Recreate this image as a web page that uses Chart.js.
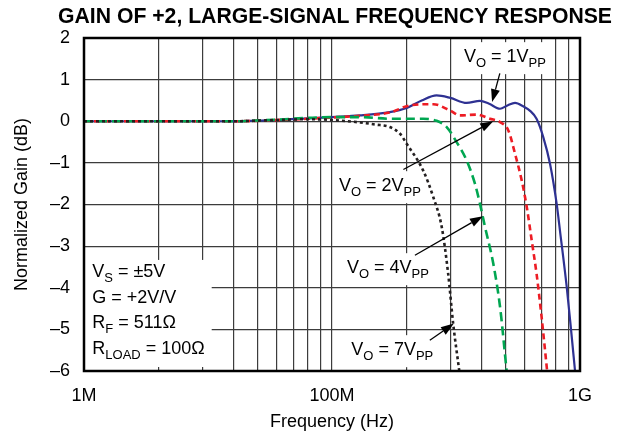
<!DOCTYPE html>
<html>
<head>
<meta charset="utf-8">
<script src="https://cdn.jsdelivr.net/npm/chart.js@4.4.1/dist/chart.umd.min.js"></script>
<style>
  html, body { margin: 0; padding: 0; background: #fff; }
  #wrap { width: 624px; height: 439px; }
</style>
</head>
<body>
<div id="wrap"><canvas id="chart"></canvas></div>
<script>
// ------------------------------------------------------------
// Data (frequency in MHz, gain in dB)
// ------------------------------------------------------------
const freq1V = [10, 40, 60, 80, 100, 130, 171, 200, 230, 264, 300, 349, 395, 430, 476, 510, 547, 590, 629, 668, 711, 757, 805, 830, 884, 920, 955];
const gain1V = [0, 0, 0.03, 0.07, 0.1, 0.14, 0.22, 0.32, 0.5, 0.62, 0.56, 0.44, 0.49, 0.42, 0.3, 0.38, 0.44, 0.36, 0.25, 0.06, -0.38, -1.02, -1.98, -2.62, -3.98, -5.0, -6];

const freq2V = [10, 40, 60, 80, 100, 130, 171, 206, 256, 299, 328, 383, 433, 476, 514, 547, 582, 610, 640, 668, 700, 737];
const gain2V = [0, 0, 0.03, 0.06, 0.09, 0.13, 0.21, 0.38, 0.41, 0.26, 0.14, 0.16, 0.06, -0.02, -0.22, -0.78, -1.42, -2.06, -2.9, -3.66, -4.7, -6];

const freq4V = [10, 40, 60, 80, 100, 130, 171, 233, 264, 290, 318, 349, 377, 395, 414, 447, 476, 506];
const gain4V = [0, 0, 0.04, 0.08, 0.1, 0.1, 0.06, 0.06, 0.01, -0.14, -0.5, -0.94, -1.5, -1.98, -2.54, -3.42, -4.46, -6];

const freq7V = [10, 40, 60, 80, 100, 130, 150, 171, 188, 200, 233, 256, 277, 294, 308, 326];
const gain7V = [0, 0, 0.03, 0.05, 0.03, -0.03, -0.08, -0.14, -0.3, -0.54, -1.18, -1.82, -2.54, -3.66, -4.86, -6];

// axis ticks
const gridFreqs = [10, 20, 30, 40, 50, 60, 70, 80, 90, 100, 200, 300, 400, 500, 600, 700, 800, 900, 1000];
const xTickValues = [10, 100, 1000];
const xTickLabels = ['1M', '100M', '1G'];
const yTickValues = [2, 1, 0, -1, -2, -3, -4, -5, -6];

// ------------------------------------------------------------
// Annotations (positions in data units)
// ------------------------------------------------------------
const FONT = "'Liberation Sans', Arial, Helvetica, sans-serif";

const curveLabels = [
  { parts: [['V'], ['O', 1], [' = 1V'], ['PP', 1]], f: 498, db: 1.54 },
  { parts: [['V'], ['O', 1], [' = 2V'], ['PP', 1]], f: 156, db: -1.56 },
  { parts: [['V'], ['O', 1], [' = 4V'], ['PP', 1]], f: 168, db: -3.53 },
  { parts: [['V'], ['O', 1], [' = 7V'], ['PP', 1]], f: 175, db: -5.5 },
];

const arrows = [
  { from: [475, 1.15], to: [442, 0.46] },
  { from: [194, -1.16], to: [447, 0.0] },
  { from: [216, -3.22], to: [406, -2.28] },
  { from: [248, -5.26], to: [310, -4.86] },
];

const condLines = [
  { parts: [['V'], ['S', 1], [' = \u00B15V']], db: -3.62 },
  { parts: [['G = +2V/V']], db: -4.25 },
  { parts: [['R'], ['F', 1], [' = 511\u03A9']], db: -4.85 },
  { parts: [['R'], ['LOAD', 1], [' = 100\u03A9']], db: -5.47 },
];
const condFreq = 10.8;

// ------------------------------------------------------------
// Drawing helpers
// ------------------------------------------------------------
function partsWidth(ctx, parts) {
  let w = 0;
  parts.forEach(([t, sub]) => {
    ctx.font = (sub ? '13px ' : '18px ') + FONT;
    w += ctx.measureText(t).width;
  });
  return w;
}

function drawParts(ctx, parts, x, y) {
  ctx.textBaseline = 'middle';
  ctx.textAlign = 'left';
  ctx.fillStyle = '#000';
  parts.forEach(([t, sub]) => {
    ctx.font = (sub ? '13px ' : '18px ') + FONT;
    ctx.fillText(t, x, sub ? y + 6 : y);
    x += ctx.measureText(t).width;
  });
}

function drawArrow(ctx, x1, y1, x2, y2) {
  const ang = Math.atan2(y2 - y1, x2 - x1);
  const hl = 13, hw = 4.5;
  const bx = x2 - hl * Math.cos(ang), by = y2 - hl * Math.sin(ang);
  ctx.strokeStyle = '#000';
  ctx.lineWidth = 1.3;
  ctx.beginPath();
  ctx.moveTo(x1, y1);
  ctx.lineTo(bx, by);
  ctx.stroke();
  ctx.fillStyle = '#000';
  ctx.beginPath();
  ctx.moveTo(x2, y2);
  ctx.lineTo(bx + hw * Math.sin(ang), by - hw * Math.cos(ang));
  ctx.lineTo(bx - hw * Math.sin(ang), by + hw * Math.cos(ang));
  ctx.closePath();
  ctx.fill();
}

const notesPlugin = {
  id: 'notes',
  beforeDatasetsDraw(chart) {
    const { ctx, chartArea: a, scales: { x, y } } = chart;
    ctx.save();
    ctx.fillStyle = '#fff';
    // label boxes
    curveLabels.forEach(l => {
      const w = partsWidth(ctx, l.parts);
      const cx = x.getPixelForValue(l.f), cy = y.getPixelForValue(l.db);
      ctx.fillRect(cx - w / 2 - 5, cy - 15, w + 10, 32);
    });
    // conditions box
    let maxW = 0;
    condLines.forEach(c => { maxW = Math.max(maxW, partsWidth(ctx, c.parts)); });
    const left = x.getPixelForValue(condFreq);
    const top = y.getPixelForValue(condLines[0].db) - 12;
    ctx.fillStyle = '#fff';
    ctx.fillRect(a.left + 1, top, left - a.left + maxW + 6, a.bottom - 4 - top);
    ctx.restore();
  },
  afterDatasetsDraw(chart) {
    const { ctx, chartArea: a, scales: { x, y } } = chart;
    ctx.save();
    curveLabels.forEach(l => {
      const w = partsWidth(ctx, l.parts);
      drawParts(ctx, l.parts, x.getPixelForValue(l.f) - w / 2, y.getPixelForValue(l.db));
    });
    arrows.forEach(ar => {
      drawArrow(ctx,
        x.getPixelForValue(ar.from[0]), y.getPixelForValue(ar.from[1]),
        x.getPixelForValue(ar.to[0]), y.getPixelForValue(ar.to[1]));
    });
    condLines.forEach(c => {
      drawParts(ctx, c.parts, x.getPixelForValue(condFreq), y.getPixelForValue(c.db));
    });
    // frame
    ctx.strokeStyle = '#000';
    ctx.lineWidth = 2.5;
    ctx.strokeRect(a.left, a.top, a.right - a.left, a.bottom - a.top);
    // title
    ctx.fillStyle = '#000';
    ctx.font = 'bold 21.2px ' + FONT;
    ctx.textAlign = 'center';
    ctx.textBaseline = 'middle';
    ctx.fillText('GAIN OF +2, LARGE-SIGNAL FREQUENCY RESPONSE', (a.left + a.right) / 2 + 3, 17);
    ctx.restore();
  }
};

function series(fs, gs) {
  return fs.map((f, i) => ({ x: f, y: gs[i] }));
}

// ------------------------------------------------------------
// Chart
// ------------------------------------------------------------
new Chart(document.getElementById('chart'), {
  type: 'line',
  data: {
    datasets: [
      { label: '7Vpp', data: series(freq7V, gain7V), borderColor: '#231f20', borderWidth: 2.6, borderDash: [3, 3] },
      { label: '4Vpp', data: series(freq4V, gain4V), borderColor: '#00a651', borderWidth: 2.6, borderDash: [9, 5] },
      { label: '2Vpp', data: series(freq2V, gain2V), borderColor: '#ed1c24', borderWidth: 2.6, borderDash: [6, 4] },
      { label: '1Vpp', data: series(freq1V, gain1V), borderColor: '#2e3192', borderWidth: 2.2 },
    ].map(d => Object.assign(d, { pointRadius: 0, fill: false, cubicInterpolationMode: 'monotone' })),
  },
  options: {
    responsive: true,
    maintainAspectRatio: false,
    animation: false,
    events: [],
    layout: { padding: { top: 38, right: 44, left: 0, bottom: 0 } },
    plugins: { legend: { display: false }, tooltip: { enabled: false } },
    scales: {
      x: {
        type: 'logarithmic',
        min: 10,
        max: 1000,
        afterBuildTicks: s => { s.ticks = gridFreqs.map(v => ({ value: v })); },
        afterFit: s => { s.height = 68; },
        grid: { color: '#3c3c3c', lineWidth: 1.2, drawTicks: false },
        border: { display: false },
        ticks: {
          autoSkip: false, maxRotation: 0, padding: 14, color: '#000',
          font: { family: FONT, size: 18 },
          callback: v => { const i = xTickValues.indexOf(v); return i >= 0 ? xTickLabels[i] : ''; },
        },
        title: { display: true, text: 'Frequency (Hz)', color: '#000', font: { family: FONT, size: 18 }, padding: { top: 0, bottom: 6 } },
      },
      y: {
        min: -6,
        max: 2,
        afterBuildTicks: s => { s.ticks = yTickValues.map(v => ({ value: v })); },
        afterFit: s => { s.width = 84; },
        grid: { color: '#3c3c3c', lineWidth: 1.2, drawTicks: false },
        border: { display: false },
        ticks: {
          padding: 14, color: '#000',
          font: { family: FONT, size: 18 },
          callback: v => (v < 0 ? '\u2013' + Math.abs(v) : String(v)),
        },
        title: { display: true, text: 'Normalized Gain (dB)', color: '#000', font: { family: FONT, size: 18 }, padding: { top: 11, bottom: 0 } },
      },
    },
  },
  plugins: [notesPlugin],
});
</script>
</body>
</html>
